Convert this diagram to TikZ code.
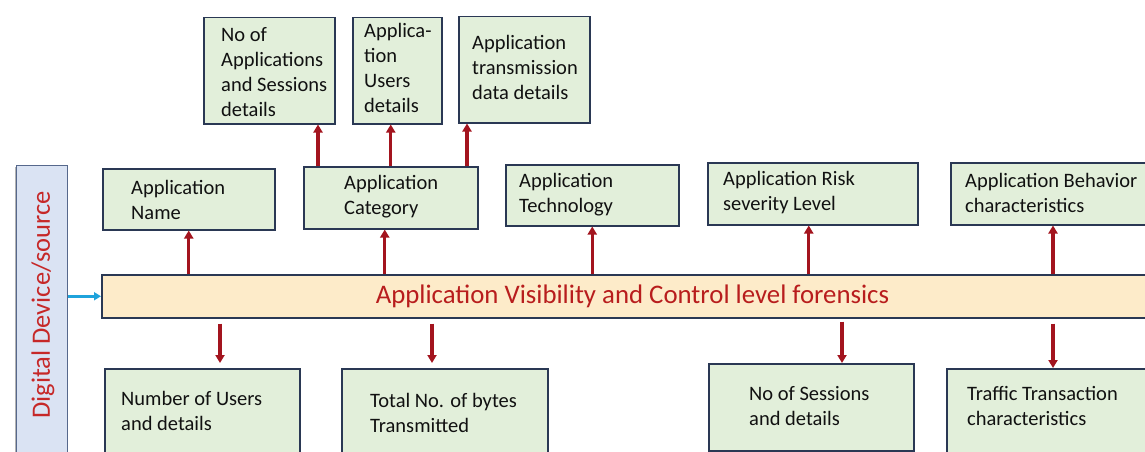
\documentclass[tikz,border=0pt]{standalone}
\usepackage{fontspec}
\setmainfont{Carlito}
\usetikzlibrary{arrows.meta,shadows}
\definecolor{boxfill}{HTML}{E2EFDA}
\definecolor{boxline}{HTML}{2A3854}
\definecolor{barfill}{HTML}{FDEBC9}
\definecolor{devfill}{HTML}{DAE3F3}
\definecolor{devline}{HTML}{56688C}
\definecolor{titlered}{HTML}{B81D1D}
\definecolor{devred}{HTML}{C62828}
\definecolor{arrowred}{HTML}{A3141E}
\definecolor{feedblue}{HTML}{1FA3DC}
\definecolor{bodytext}{HTML}{111111}
\tikzset{
  infobox/.style={draw=boxline, line width=1.5pt, fill=boxfill, inner sep=0pt,
    anchor=north west,
    drop shadow={shadow xshift=1.5pt, shadow yshift=-1.5pt, opacity=0.35, fill=black}},
  barbox/.style={infobox, fill=barfill},
  devbox/.style={draw=devline, line width=1.3pt, fill=devfill, inner sep=0pt,
    anchor=north west,
    drop shadow={shadow xshift=-1.5pt, shadow yshift=-1.5pt, opacity=0.3, fill=black}},
  boxtext/.style={anchor=west, align=left, inner sep=0pt, text=bodytext,
    font=\fontsize{20.5}{25}\selectfont},
  uparrow/.style={draw=arrowred, line width=3.2pt, -{Triangle[length=8pt,width=9pt]}},
  downarrow/.style={uparrow, shorten <=5pt},
  feed/.style={draw=feedblue, line width=2.6pt, -{Triangle[length=7pt,width=8pt]}},
}
\begin{document}
\begin{tikzpicture}[x=1pt,y=-1pt]
\useasboundingbox (0,0) rectangle (1145,452);
\fill[white] (0,0) rectangle (1145,452);
\clip (0,0) rectangle (1145,452);

% source column on the left
\node[devbox, minimum width=51pt, minimum height=310pt] (devB) at (16,165) {};
\node[rotate=90, inner sep=0pt, text=devred, font=\fontsize{26.5}{30}\selectfont]
  (devT) at (43,305) {Digital Device/source};

% central forensics bar
\node[barbox, minimum width=1065pt, minimum height=43pt] (mainB) at (101,274) {};
\node[inner sep=0pt, text=titlered, font=\fontsize{26.8}{30}\selectfont]
  (title) at (632.5,296) {Application Visibility and Control level forensics};

% upper row
\node[infobox, minimum width=172pt, minimum height=61pt] (nameB) at (102,168) {};
\node[boxtext] (nameT) at (131,199.5) {Application\\Name};
\node[infobox, minimum width=174pt, minimum height=62pt] (catB) at (303,166) {};
\node[boxtext] (catT) at (344,197) {Application\\Category};
\node[infobox, minimum width=173pt, minimum height=61pt] (techB) at (505,164) {};
\node[boxtext] (techT) at (519,194.5) {Application\\Technology};
\node[infobox, minimum width=210pt, minimum height=62pt] (riskB) at (707,162) {};
\node[boxtext] (riskT) at (723,192.5) {Application Risk\\severity Level};
\node[infobox, minimum width=215pt, minimum height=62pt] (behB) at (950,162) {};
\node[boxtext] (behT) at (965,192.5) {Application Behavior\\characteristics};

% details above the category box
\node[infobox, minimum width=131pt, minimum height=106pt] (appsB) at (203,17) {};
\node[boxtext] (appsT) at (221,72.5) {No of\\Applications\\and Sessions\\details};
\node[infobox, minimum width=89pt, minimum height=106pt] (usrB) at (352,17) {};
\node[boxtext] (usrT) at (364,68) {Applica-\\tion\\Users\\details};
\node[infobox, minimum width=131pt, minimum height=106pt] (trB) at (458,16) {};
\node[boxtext] (trT) at (472,67) {Application\\transmission\\data details};

% lower row
\node[infobox, minimum width=195pt, minimum height=90pt] (nuB) at (104,368) {};
\node[boxtext] (nuT) at (121,410.5) {Number of Users\\and details};
\node[infobox, minimum width=206pt, minimum height=90pt] (totB) at (341,368) {};
\node[boxtext] (totT) at (370,412.5) {Total No. of bytes\\Transmitted};
\node[infobox, minimum width=205pt, minimum height=87pt] (sesB) at (708,363) {};
\node[boxtext] (sesT) at (749,406) {No of Sessions\\and details};
\node[infobox, minimum width=215pt, minimum height=90pt] (trfB) at (946,368) {};
\node[boxtext] (trfT) at (967,406) {Traffic Transaction\\characteristics};

% connectors
\draw[feed] (devB.east |- mainB.west) -- (mainB.west);

\draw[uparrow] (nameB.south |- mainB.north) -- (nameB.south);
\draw[uparrow] ([xshift=-6pt]catB.south |- mainB.north) -- ([xshift=-6pt]catB.south);
\draw[uparrow] (techB.south |- mainB.north) -- (techB.south);
\draw[uparrow] ([xshift=-4pt]riskB.south |- mainB.north) -- ([xshift=-4pt]riskB.south);
\draw[uparrow] ([xshift=103pt]behB.south west |- mainB.north) -- ([xshift=103pt]behB.south west);

\draw[uparrow] ([xshift=15pt]catB.north west) -- ([xshift=15pt]catB.north west |- appsB.south);
\draw[uparrow] (catB.north) -- (catB.north |- usrB.south);
\draw[uparrow] ([xshift=9pt]trB.south west |- catB.north) -- ([xshift=9pt]trB.south west);

\draw[downarrow, shorten >=5pt] ([xshift=116pt]nuB.north west |- mainB.south) -- ([xshift=116pt]nuB.north west);
\draw[downarrow, shorten >=5pt] ([xshift=91pt]totB.north west |- mainB.south) -- ([xshift=91pt]totB.north west);
\draw[downarrow, shorten <=3pt] ([xshift=134pt]sesB.north west |- mainB.south) -- ([xshift=134pt]sesB.north west);
\draw[downarrow] ([xshift=107pt]trfB.north west |- mainB.south) -- ([xshift=107pt]trfB.north west);
\end{tikzpicture}
\end{document}
